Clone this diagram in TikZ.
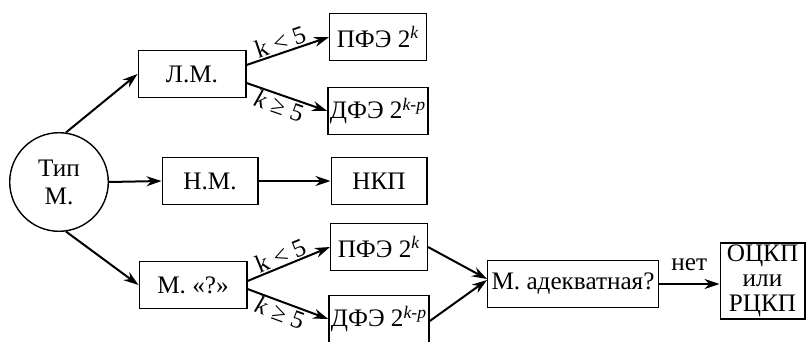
\documentclass[tikz,border=0pt]{standalone}
\usepackage{fontspec}
\setmainfont{Liberation Serif}
\usetikzlibrary{arrows.meta}

\tikzset{
  blok/.style={draw, line width=0.7pt, minimum height=23.3pt, inner sep=1pt},
  strel/.style={line width=1pt, -{Stealth[length=7.5pt,width=5pt]}},
  usl/.style={sloped, inner sep=0.5pt},
}

\begin{document}
\begin{tikzpicture}[x=0.5pt, y=-0.5pt, font=\fontsize{12.6}{13}\selectfont]
\useasboundingbox (0,0) rectangle (807,342);
% type of model
\node[draw, circle, line width=0.7pt, minimum size=49.3pt, inner sep=0pt, align=center,
      font=\fontsize{12.6}{14}\selectfont] (tip) at (59,182) {Тип\\М.};
% linear model branch
\node[blok, minimum width=53.8pt] (lm) at (192,74) {Л.М.};
\node[blok, minimum width=48.3pt] (pfeA) at (378,37) {ПФЭ 2\textsuperscript{\itshape k}};
\node[blok, minimum width=48.3pt] (dfeA) at (378,111) {ДФЭ 2\textsuperscript{\itshape k-p}};
% nonlinear model
\node[blok, minimum width=47.8pt] (nm) at (210,181) {Н.М.};
\node[blok, minimum width=47.8pt] (nkp) at (379,181) {НКП};
% unknown model branch
\node[blok, minimum width=53.8pt] (mq) at (193,285) {М. «?»};
\node[blok, minimum width=48.3pt] (pfeB) at (379,247) {ПФЭ 2\textsuperscript{\itshape k}};
\node[blok, minimum width=48.3pt] (dfeB) at (379,319) {ДФЭ 2\textsuperscript{\itshape k-p}};
\node[blok, minimum width=85.3pt] (adk) at (573,284) {М. адекватная?};
\node[blok, minimum width=42.3pt, minimum height=36pt, align=center,
      font=\fontsize{12.6}{12.5}\selectfont] (ockp) at (762.5,281) {ОЦКП\\или\\РЦКП};

\draw[strel] (tip.82) -- (lm.west);
\draw[strel] (tip.east) -- (nm.west);
\draw[strel] (tip.-82) -- (mq.west);
\draw[strel] ([yshift=4.5pt]lm.east) -- node[usl, above, pos=0.45]{k < 5} (pfeA.west);
\draw[strel] ([yshift=-4.5pt]lm.east) -- node[usl, below, pos=0.45]{\textit{k} ≥ 5} (dfeA.west);
\draw[strel] (nm.east) -- (nkp.west);
\draw[strel] ([yshift=2pt]mq.east) -- node[usl, above, pos=0.45]{k < 5} (pfeB.west);
\draw[strel] ([yshift=-2pt]mq.east) -- node[usl, below, pos=0.45]{\textit{k} ≥ 5} (dfeB.west);
\draw[strel] (pfeB.east) -- ([yshift=2.5pt]adk.west);
\draw[strel] ([yshift=-1pt]dfeB.east) -- ([yshift=2pt]adk.west);
\draw[strel] (adk.east) -- node[above=3pt]{нет} (ockp.west |- adk.east);
\end{tikzpicture}
\end{document}
